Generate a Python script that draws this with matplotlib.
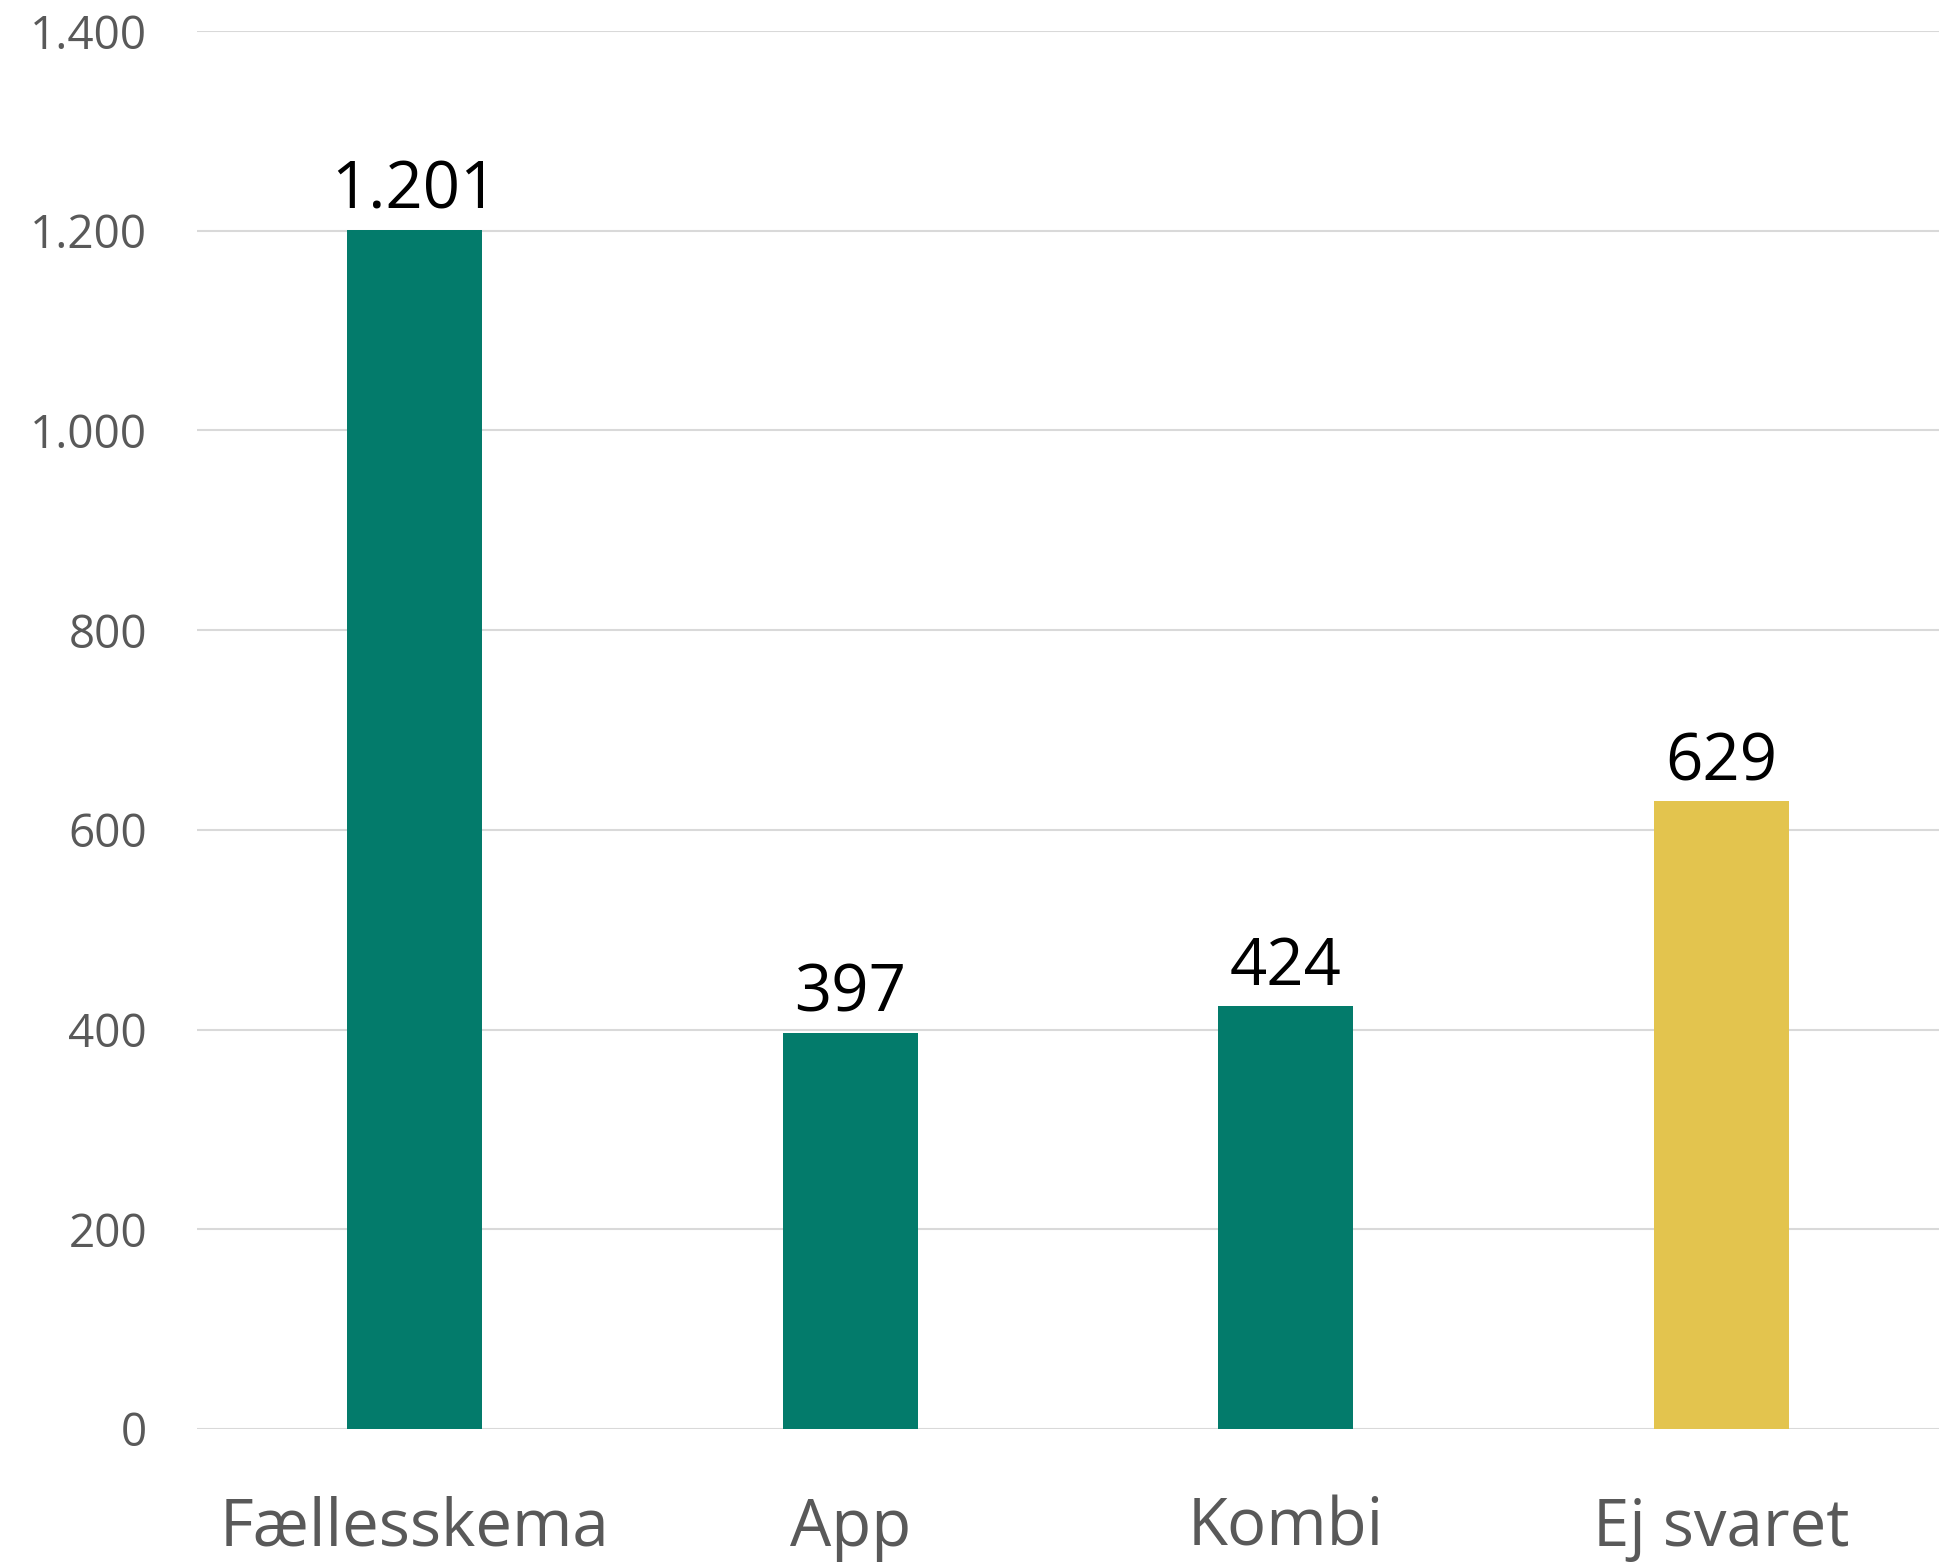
import matplotlib
matplotlib.use("Agg")
import matplotlib.pyplot as plt

categories = ["Fællesskema", "App", "Kombi", "Ej svaret"]
values = [1201, 397, 424, 629]
value_labels = ["1.201", "397", "424", "629"]
bar_colors = ["#037B6B", "#037B6B", "#037B6B", "#E3C44E"]
yticks = [0, 200, 400, 600, 800, 1000, 1200, 1400]
ytick_labels = ["0", "200", "400", "600", "800", "1.000", "1.200", "1.400"]

plt.rcParams['font.family'] = ['Open Sans', 'DejaVu Sans']

fig = plt.figure(figsize=(19.59, 15.67), dpi=100)
ax = fig.add_axes([0.1006, 0.0881, 0.8892, 0.8921])

x = range(len(categories))
bars = ax.bar(x, values, width=0.31, color=bar_colors, zorder=3)

for b, lab in zip(bars, value_labels):
    ax.annotate(lab, (b.get_x() + b.get_width() / 2, b.get_height()),
                xytext=(0, 15), textcoords="offset points",
                ha="center", va="baseline", fontsize=47, color="black")

ax.set_xlim(-0.5, 3.5)
ax.set_ylim(0, 1400)
ax.set_yticks(yticks)
ax.set_yticklabels(ytick_labels)
ax.set_xticks(list(x))
ax.set_xticklabels(categories)

ax.tick_params(axis="y", length=0, pad=36, labelsize=33, labelcolor="#595959")
ax.tick_params(axis="x", length=0, pad=48, labelsize=47, labelcolor="#595959")

ax.grid(axis="y", color="#D9D9D9", linewidth=1.5, zorder=0)
for s in ax.spines.values():
    s.set_visible(False)

fig.savefig("out.png", dpi=100)
